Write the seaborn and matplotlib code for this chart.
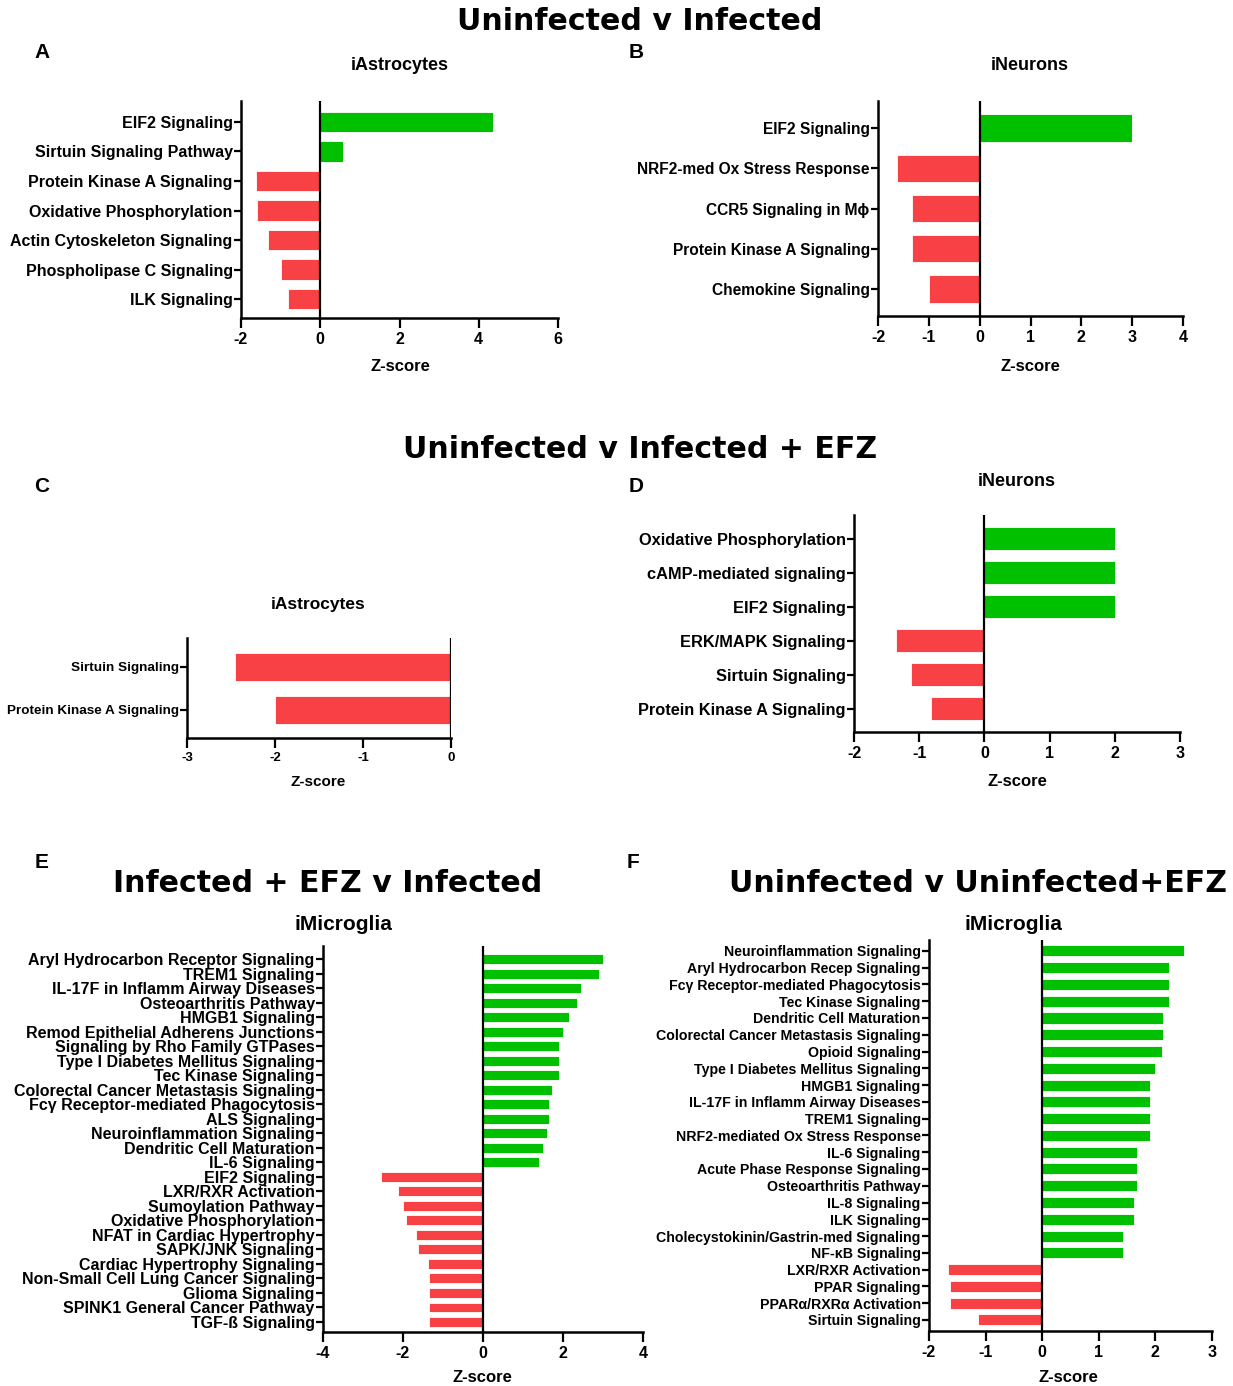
import numpy as np
import pandas as pd
import matplotlib.pyplot as plt
import seaborn as sns

GREEN = '#00c000'
RED = '#f84144'

# A: Uninfected v Infected, iAstrocytes
a_terms = ['EIF2 Signaling', 'Sirtuin Signaling Pathway', 'Protein Kinase A Signaling',
           'Oxidative Phosphorylation', 'Actin Cytoskeleton Signaling',
           'Phospholipase C Signaling', 'ILK Signaling']
a_z = [4.37, 0.58, -1.63, -1.60, -1.33, -0.98, -0.81]

# B: Uninfected v Infected, iNeurons
b_terms = ['EIF2 Signaling', 'NRF2-med Ox Stress Response', 'CCR5 Signaling in M\u03d5',
           'Protein Kinase A Signaling', 'Chemokine Signaling']
b_z = [3.0, -1.63, -1.34, -1.34, -1.0]

# C: Uninfected v Infected + EFZ, iAstrocytes
c_terms = ['Sirtuin Signaling', 'Protein Kinase A Signaling']
c_z = [-2.45, -2.0]

# D: Uninfected v Infected + EFZ, iNeurons
d_terms = ['Oxidative Phosphorylation', 'cAMP-mediated signaling', 'EIF2 Signaling',
           'ERK/MAPK Signaling', 'Sirtuin Signaling', 'Protein Kinase A Signaling']
d_z = [2.0, 2.0, 2.0, -1.35, -1.13, -0.82]

# E: Infected + EFZ v Infected, iMicroglia
e_terms = ['Aryl Hydrocarbon Receptor Signaling', 'TREM1 Signaling',
           'IL-17F in Inflamm Airway Diseases', 'Osteoarthritis Pathway', 'HMGB1 Signaling',
           'Remod Epithelial Adherens Junctions', 'Signaling by Rho Family GTPases',
           'Type I Diabetes Mellitus Signaling', 'Tec Kinase Signaling',
           'Colorectal Cancer Metastasis Signaling', 'Fc\u03b3 Receptor-mediated Phagocytosis',
           'ALS Signaling', 'Neuroinflammation Signaling', 'Dendritic Cell Maturation',
           'IL-6 Signaling', 'EIF2 Signaling', 'LXR/RXR Activation', 'Sumoylation Pathway',
           'Oxidative Phosphorylation', 'NFAT in Cardiac Hypertrophy', 'SAPK/JNK Signaling',
           'Cardiac Hypertrophy Signaling', 'Non-Small Cell Lung Cancer Signaling',
           'Glioma Signaling', 'SPINK1 General Cancer Pathway', 'TGF-\u00df Signaling']
e_z = [3.01, 2.89, 2.45, 2.34, 2.14, 2.0, 1.90, 1.89, 1.89, 1.72, 1.66, 1.64, 1.61, 1.51,
       1.39, -2.54, -2.13, -1.99, -1.93, -1.67, -1.62, -1.38, -1.34, -1.34, -1.34, -1.34]

# F: Uninfected v Uninfected+EFZ, iMicroglia
f_terms = ['Neuroinflammation Signaling', 'Aryl Hydrocarbon Recep Signaling',
           'Fc\u03b3 Receptor-mediated Phagocytosis', 'Tec Kinase Signaling',
           'Dendritic Cell Maturation', 'Colorectal Cancer Metastasis Signaling',
           'Opioid Signaling', 'Type I Diabetes Mellitus Signaling', 'HMGB1 Signaling',
           'IL-17F in Inflamm Airway Diseases', 'TREM1 Signaling',
           'NRF2-mediated Ox Stress Response', 'IL-6 Signaling',
           'Acute Phase Response Signaling', 'Osteoarthritis Pathway', 'IL-8 Signaling',
           'ILK Signaling', 'Cholecystokinin/Gastrin-med Signaling', 'NF-\u03baB Signaling',
           'LXR/RXR Activation', 'PPAR Signaling', 'PPAR\u03b1/RXR\u03b1 Activation',
           'Sirtuin Signaling']
f_z = [2.50, 2.24, 2.24, 2.24, 2.13, 2.13, 2.11, 2.0, 1.90, 1.90, 1.90, 1.90, 1.67, 1.67,
       1.67, 1.63, 1.63, 1.42, 1.42, -1.67, -1.63, -1.63, -1.13]

sns.set_theme(style='ticks')
plt.rcParams['font.family'] = ['Liberation Sans', 'DejaVu Sans']
plt.rcParams['font.weight'] = 'bold'

W, H = 1233, 1386
fig = plt.figure(figsize=(W / 100, H / 100), dpi=100)


def px(x, y):
    return x / W, 1 - y / H


def panel(box, terms, z, xlim, xticks, pad_top, pad_bot, width, fs, tfs):
    l, t, r, b = box
    ax = fig.add_axes([l / W, 1 - b / H, (r - l) / W, (b - t) / H])
    df = pd.DataFrame({'term': terms, 'z': z})
    df['dir'] = np.where(df['z'] > 0, 'up', 'down')
    sns.barplot(data=df, x='z', y='term', hue='dir', orient='h', width=width,
                palette={'up': GREEN, 'down': RED}, saturation=1, dodge=False,
                legend=False, edgecolor='white', linewidth=0.6, ax=ax)
    ax.axvline(0, color='black', lw=1.6, zorder=3)
    ax.set_xlim(*xlim)
    ax.set_xticks(xticks)
    ax.set_xticklabels([str(v) for v in xticks])
    ax.set_ylim(len(terms) - 1 + pad_bot, -pad_top)
    sns.despine(ax=ax)
    for s in ['left', 'bottom']:
        ax.spines[s].set_linewidth(1.8)
        ax.spines[s].set_color('black')
    ax.tick_params(axis='y', length=5, width=1.6, pad=1, labelsize=fs, colors='black')
    ax.tick_params(axis='x', length=7, width=1.6, pad=3, labelsize=tfs, colors='black')
    for lab in ax.get_yticklabels() + ax.get_xticklabels():
        lab.set_fontweight('bold')
    ax.set_ylabel('')
    ax.set_xlabel('')
    return ax


def label(x, y, s, size, family=None):
    fig.text(*px(x, y), s, fontsize=size, fontweight='bold', ha='center', va='center',
             family=family, color='black')


# titles
for s, x, y in [('Uninfected v Infected', 640, 22), ('Uninfected v Infected + EFZ', 640, 450),
                ('Infected + EFZ v Infected', 328, 883),
                ('Uninfected v Uninfected+EFZ', 978, 883)]:
    label(x, y, s, 21.6, family=['DejaVu Sans'])
for letter, x, y in [('A', 42, 52), ('B', 636, 52), ('C', 42, 486), ('D', 636, 486),
                     ('E', 42, 862), ('F', 633, 862)]:
    label(x, y, letter, 15)

# A
panel((241, 101, 558, 318), a_terms, a_z, (-2, 6), [-2, 0, 2, 4, 6], 0.71, 0.64, 0.7, 11.5, 11.5)
label(400, 66, 'iAstrocytes', 13)
label(400, 366, 'Z-score', 12)

# B
panel((878, 101, 1183, 316), b_terms, b_z, (-2, 4), [-2, -1, 0, 1, 2, 3, 4], 0.67, 0.67, 0.68, 11.2, 11.5)
label(1030, 66, 'iNeurons', 13)
label(1030, 366, 'Z-score', 12)

# C
panel((187, 638, 451, 738), c_terms, c_z, (-3, 0), [-3, -2, -1, 0], 0.67, 0.65, 0.66, 9.7, 9.5)
label(318, 605, 'iAstrocytes', 12.5)
label(318, 782, 'Z-score', 11)

# D
panel((854, 515, 1180, 732), d_terms, d_z, (-2, 3), [-2, -1, 0, 1, 2, 3], 0.7, 0.68, 0.67, 11.8, 11.5)
label(1017, 481, 'iNeurons', 13)
label(1017, 781, 'Z-score', 12)

# E
panel((323, 946, 643, 1332), e_terms, e_z, (-4, 4), [-4, -2, 0, 2, 4], 0.9, 0.69, 0.68, 11.5, 11.5)
label(343, 924, 'iMicroglia', 15)
label(482, 1378, 'Z-score', 12)

# F
panel((929, 940, 1212, 1331), f_terms, f_z, (-2, 3), [-2, -1, 0, 1, 2, 3], 0.65, 0.66, 0.66, 10.2, 11.5)
label(1013, 924, 'iMicroglia', 15)
label(1068, 1378, 'Z-score', 12)

plt.savefig('out.png', dpi=100)
